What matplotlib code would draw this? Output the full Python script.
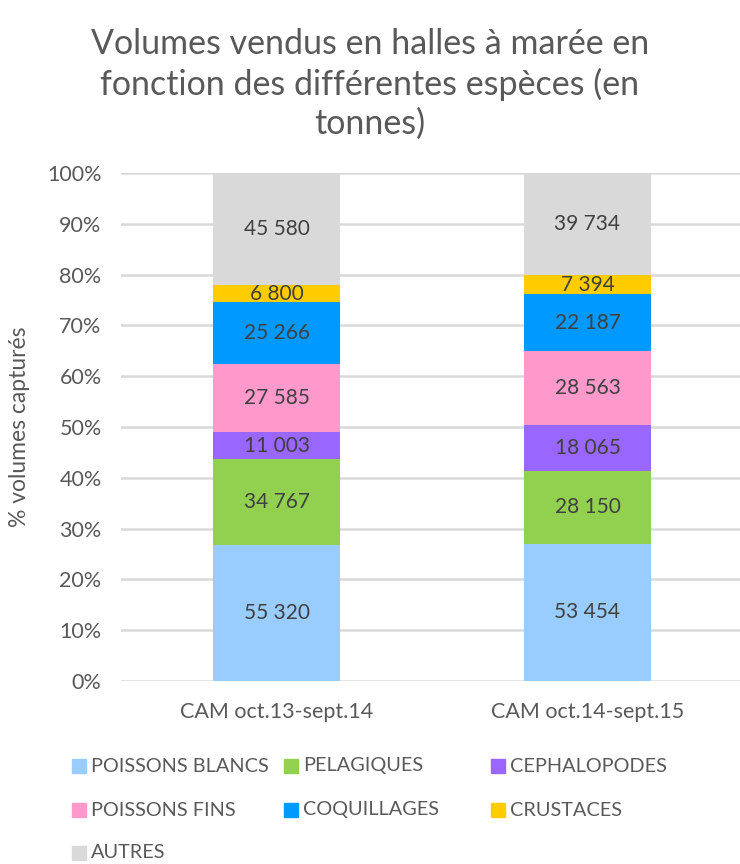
import matplotlib
matplotlib.use("Agg")
import matplotlib.pyplot as plt
import numpy as np
from matplotlib.patches import Rectangle

# ---- data -------------------------------------------------------------------
periods = ["CAM oct.13-sept.14", "CAM oct.14-sept.15"]
species = ["POISSONS BLANCS", "PELAGIQUES", "CEPHALOPODES", "POISSONS FINS",
           "COQUILLAGES", "CRUSTACES", "AUTRES"]
tonnes_1314 = [55320, 34767, 11003, 27585, 25266, 6800, 45580]
tonnes_1415 = [53454, 28150, 18065, 28563, 22187, 7394, 39734]
colors = ["#99CCFF", "#92D050", "#9966FF", "#FF99CC", "#0099FF", "#FFCC00", "#D9D9D9"]

title = "Volumes vendus en halles à marée en\nfonction des différentes espèces (en\ntonnes)"
ylabel = "% volumes capturés"

plt.rcParams["font.family"] = ["Lato", "DejaVu Sans"]
GREY = "#595959"

W, H = 740, 864
fig = plt.figure(figsize=(W / 100, H / 100), dpi=100)
ax = fig.add_axes([121 / W, 1 - 681 / H, (W - 121) / W, (681 - 173) / H])

data = np.array([tonnes_1314, tonnes_1415], dtype=float)
pct = data / data.sum(axis=1, keepdims=True) * 100
x = np.arange(len(periods))
bottom = np.zeros(len(periods))
for i, name in enumerate(species):
    bars = ax.bar(x, pct[:, i], 0.41, bottom=bottom, color=colors[i],
                  label=name, zorder=2)
    labels = [f"{int(v):,}".replace(",", " ") for v in data[:, i]]
    ax.bar_label(bars, labels=labels, label_type="center", fontsize=15,
                 color="#404040")
    bottom += pct[:, i]

px_per_unit = 311
ax.set_xlim(-0.5, -0.5 + (W - 121) / px_per_unit)
ax.set_ylim(0, 100)
ax.set_yticks(np.arange(0, 101, 10))
ax.set_yticklabels([f"{v}%" for v in range(0, 101, 10)])
ax.set_xticks(x)
ax.set_xticklabels(periods)
ax.grid(axis="y", color="#D9D9D9", linewidth=1.8, zorder=0)
ax.set_axisbelow(True)
for s in ax.spines.values():
    s.set_visible(False)
ax.tick_params(axis="both", length=0, colors=GREY)
ax.tick_params(axis="y", pad=14, labelsize=15.5)
ax.tick_params(axis="x", pad=15, labelsize=15.5)
ax.set_ylabel(ylabel, fontsize=16.5, color=GREY, labelpad=12)

fig.text(370 / W, 1 - 84 / H, title, ha="center", va="center", fontsize=24.5,
         color=GREY, linespacing=1.27)

# legend: three columns, row-major, like the original
col_x = [72, 284, 491]
row_y = [766, 810, 853]
sq = 14
for i, name in enumerate(species):
    cx = col_x[i % 3]
    cy = row_y[i // 3]
    fig.patches.append(Rectangle((cx / W, 1 - (cy + sq / 2) / H), sq / W, sq / H,
                                 transform=fig.transFigure, color=colors[i]))
    fig.text((cx + sq + 5) / W, 1 - cy / H, name, ha="left", va="center",
             fontsize=14.3, color=GREY)

fig.savefig("out.png", dpi=100)
